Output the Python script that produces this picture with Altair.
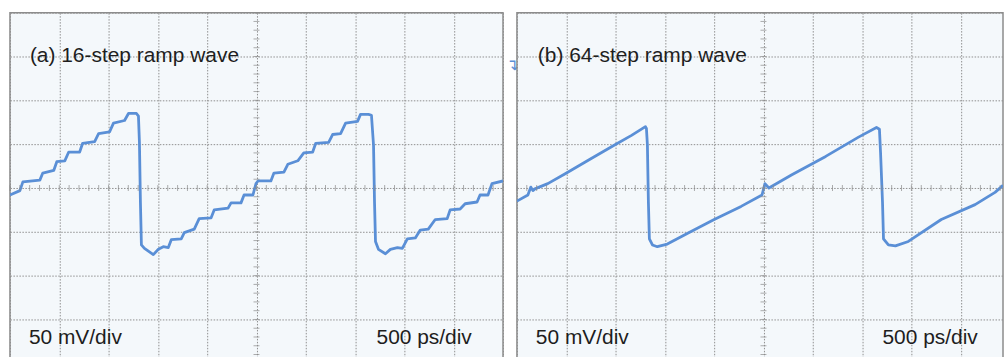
import altair as alt
import pandas as pd

# Panel (a): 16-step ramp wave.  time in ps (500 ps/div), voltage in mV (50 mV/div)
a_t = [0, 101, 131, 303, 333, 444, 475, 556, 596, 707, 737, 859, 899, 1010, 1050, 1162, 1202, 1283,
       1303, 1313, 1323, 1333, 1364, 1454, 1505, 1555, 1606, 1636, 1737, 1768, 1869, 1919, 2040, 2071,
       2212, 2242, 2343, 2374, 2464, 2495, 2515, 2646, 2677, 2778, 2818, 2919, 2980, 3070, 3101, 3232,
       3272, 3353, 3404, 3525, 3555, 3636, 3666, 3687, 3697, 3707, 3737, 3808, 3858, 3929, 3979, 4030,
       4111, 4161, 4242, 4313, 4434, 4464, 4565, 4616, 4737, 4767, 4848, 4888, 5000]
a_v = [-8, -3, 7, 9, 17, 20, 30, 31, 41, 41, 51, 53, 62, 64, 74, 77, 85, 85,
       82, 52, -16, -65, -69, -76, -70, -67, -68, -59, -58, -51, -47, -35, -34, -25,
       -23, -17, -17, -8, -8, 5, 8, 8, 17, 18, 27, 31, 40, 41, 51, 52,
       61, 62, 74, 76, 84, 84, 83, 49, -16, -61, -70, -75, -70, -68, -69, -58,
       -57, -48, -47, -36, -35, -25, -24, -18, -16, -8, -8, 5, 8]

# Panel (b): 64-step ramp wave
b_t = [0, 111, 141, 162, 182, 313, 485, 758, 990, 1162, 1303, 1313, 1323, 1333, 1343, 1374, 1424,
       1525, 1727, 2000, 2273, 2485, 2515, 2555, 2788, 3131, 3464, 3646, 3676, 3687, 3707, 3717, 3767,
       3838, 3969, 4303, 4646, 4848, 4929]
b_v = [-15, -8, 1, -3, -1, 5, 16, 34, 49, 60, 70, 68, 49, -16, -58, -65, -67,
       -64, -52, -36, -21, -8, 5, 0, 15, 36, 58, 69, 67, 41, -16, -58, -65,
       -66, -61, -36, -19, -5, 3]

titles = ["(a) 16-step ramp wave", "(b) 64-step ramp wave"]
volt_label = "50 mV/div"
time_label = "500 ps/div"

TRACE = "#5a8fd6"
FONT = "Liberation Sans"
V_MIN, V_MAX = -194.3, 200


def label(text, px, py, size=21, color="#1e1e1e", font=FONT, baseline="alphabetic"):
    return alt.Chart(pd.DataFrame({"s": [text]})).mark_text(
        font=font, fontSize=size, color=color, align="left", baseline=baseline
    ).encode(x=alt.value(px), y=alt.value(py), text="s:N")


def panel(ts, vs, xmax, width, title, tx, lx, rx, marker=False):
    df = pd.DataFrame({"t": ts, "v": vs})
    xs = alt.Scale(domain=[0, xmax], nice=False, zero=False)
    ys = alt.Scale(domain=[V_MIN, V_MAX], nice=False, zero=False)
    xaxis = alt.Axis(values=[x for x in range(0, 5001, 500) if x <= xmax], grid=True,
                     labels=False, ticks=False, domain=False, title=None)
    yaxis = alt.Axis(values=list(range(-150, 201, 50)), grid=True,
                     labels=False, ticks=False, domain=False, title=None)

    line = alt.Chart(df).mark_line(color=TRACE, strokeWidth=2.8, strokeJoin="round",
                                   clip=True).encode(
        x=alt.X("t:Q", scale=xs, axis=xaxis),
        y=alt.Y("v:Q", scale=ys, axis=yaxis),
        order="t:Q",
    )

    hticks = pd.DataFrame({"t": [x for x in range(0, 5001, 100) if x <= xmax], "v": 0})
    vticks = pd.DataFrame({"v": [y for y in range(-190, 201, 10)], "t": 2500})
    tick_h = alt.Chart(hticks).mark_tick(orient="vertical", size=6, thickness=1,
                                         color="#8a8a8a").encode(
        x=alt.X("t:Q", scale=xs), y=alt.Y("v:Q", scale=ys))
    tick_v = alt.Chart(vticks).mark_tick(orient="horizontal", size=6, thickness=1,
                                         color="#8a8a8a").encode(
        x=alt.X("t:Q", scale=xs), y=alt.Y("v:Q", scale=ys))

    layers = [line, tick_h, tick_v,
              label(title, tx, 50), label(volt_label, lx, 333), label(time_label, rx, 333)]
    if marker:
        layers.append(label("\u21b4", 498, 45, size=16, color=TRACE,
                            font="DejaVu Sans", baseline="top"))
    return alt.layer(*layers).properties(width=width, height=347)


left = panel(a_t, a_v, 5000, 495, titles[0], 20, 19, 368, marker=True)
right = panel(b_t, b_v, 4929, 488, titles[1], 21, 19, 367)

chart = alt.hconcat(left, right, spacing=14, bounds="flush").properties(
    padding={"left": 8, "top": 10, "right": 0, "bottom": 0},
    background="white",
).configure_view(
    fill="#f4f8fb", stroke="#8c8c8c", strokeWidth=1.5
).configure_axis(
    gridColor="#8f8f8f", gridDash=[1.5, 1.5], gridWidth=1, gridOpacity=1
)

chart.save("out.html", embed_options={"renderer": "svg", "actions": False})
